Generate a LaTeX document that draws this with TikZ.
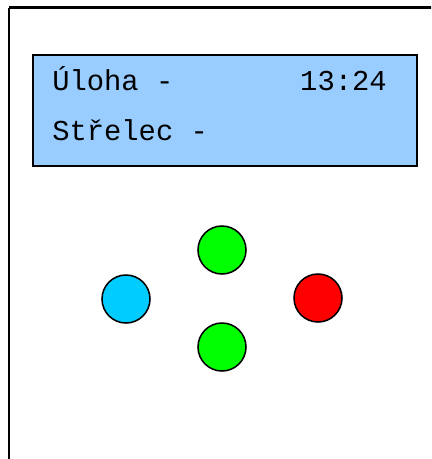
\documentclass[tikz,border=0pt]{standalone}
\usepackage{fontspec}
\usepackage{xcolor}
\newfontfamily\lcdfont{Liberation Mono}
\definecolor{lcdblue}{RGB}{153,204,255}
\definecolor{btngreen}{RGB}{0,255,0}
\definecolor{btnblue}{RGB}{0,204,255}
\definecolor{btnred}{RGB}{255,0,0}
\tikzset{
  lcdtext/.style={inner sep=0pt, font=\lcdfont\fontsize{20.5}{24}\selectfont},
  button/.style={circle, draw=black, line width=1.1pt, minimum size=48*0.25mm, inner sep=0pt}
}

\begin{document}
\begin{tikzpicture}[x=0.25mm,y=-0.25mm]
\useasboundingbox (0,0) rectangle (431,459);
\clip (0,0) rectangle (431,459);
% case
\draw [line width=1.6pt] (9,7.5) -- (9,470) (9,7.5) -- (440,7.5);
% display
\draw [fill=lcdblue, line width=1.4pt] (33,55) rectangle (417,166);
\node [lcdtext, anchor=base west] (task) at (52,90) {Úloha -};
\node [lcdtext, anchor=base east] (time) at (387,90) {13:24};
\node [lcdtext, anchor=base west] (shooter) at (52,140) {Střelec -};
% buttons
\node [button, fill=btngreen] (btnup) at (222,250) {};
\node [button, fill=btngreen] (btndown) at (222,347) {};
\node [button, fill=btnblue] (btnleft) at (126,299) {};
\node [button, fill=btnred] (btnright) at (318,298) {};
\end{tikzpicture}
\end{document}
